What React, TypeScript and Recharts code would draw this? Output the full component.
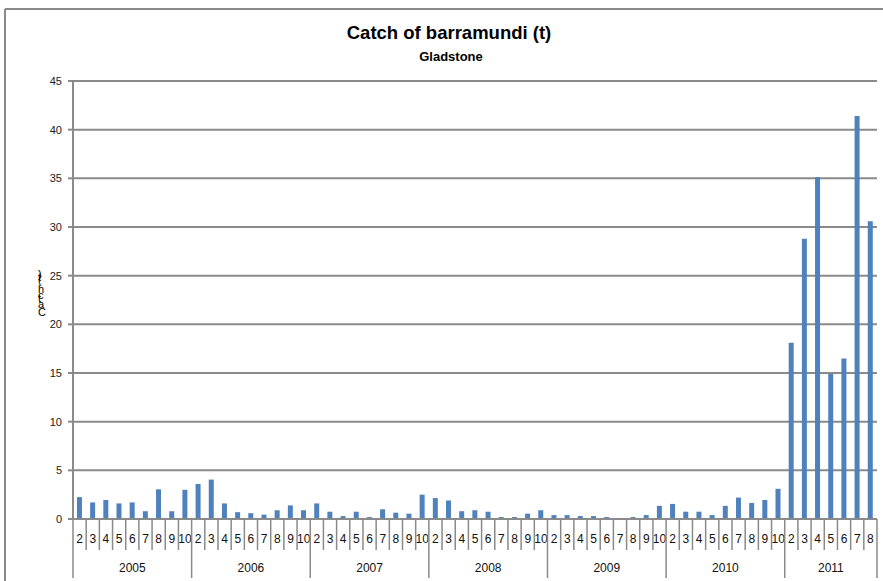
import { BarChart, Bar, XAxis, YAxis, CartesianGrid } from 'recharts';

// catch per month, Gladstone (tonnes)
const years = ['2005', '2006', '2007', '2008', '2009', '2010', '2011'];
const monthsFull = ['2', '3', '4', '5', '6', '7', '8', '9', '10'];
const months2011 = ['2', '3', '4', '5', '6', '7', '8'];

const catch2005 = [2.25, 1.7, 1.95, 1.6, 1.7, 0.8, 3.05, 0.8, 3.0];
const catch2006 = [3.6, 4.05, 1.6, 0.7, 0.6, 0.45, 0.9, 1.4, 0.9];
const catch2007 = [1.6, 0.75, 0.3, 0.75, 0.2, 1.0, 0.65, 0.55, 2.5];
const catch2008 = [2.15, 1.9, 0.8, 0.9, 0.75, 0.2, 0.2, 0.55, 0.9];
const catch2009 = [0.4, 0.4, 0.3, 0.3, 0.2, 0.1, 0.2, 0.4, 1.35];
const catch2010 = [1.55, 0.75, 0.75, 0.4, 1.35, 2.2, 1.65, 1.95, 3.1];
const catch2011 = [18.1, 28.8, 35.1, 14.9, 16.5, 41.4, 30.6];

const yTicks = [0, 5, 10, 15, 20, 25, 30, 35, 40, 45];

const yearValues = [catch2005, catch2006, catch2007, catch2008, catch2009, catch2010, catch2011];
const yearMonths = years.map((y) => (y === '2011' ? months2011 : monthsFull));

const data = years.flatMap((year, yi) =>
  yearMonths[yi].map((month, mi) => ({
    key: `${year}-${month}`,
    year,
    month,
    pos: mi,
    count: yearMonths[yi].length,
    value: yearValues[yi][mi],
  }))
);

const W = 883;
const H = 581;
const Y_AXIS_W = 73;
const RIGHT = 6;
const X_AXIS_H = 62;
const AXIS_Y = H - X_AXIS_H;
const STEP = (W - Y_AXIS_W - RIGHT) / data.length;
const GREY = '#8a8a8a';
const FONT = '"Liberation Sans", Arial, sans-serif';

function MonthTick(props: any) {
  const { x, payload } = props;
  const d = data.find((r) => r.key === payload.value);
  if (!d) return null;
  const first = d.pos === 0;
  const isEnd = d.key === data[data.length - 1].key;
  const mid = d.pos === Math.floor(d.count / 2);
  return (
    <g>
      <text x={x} y={AXIS_Y + 24} textAnchor="middle" fontSize={12} fill="#111" fontFamily={FONT}>
        {d.month}
      </text>
      <line
        x1={x - STEP / 2}
        x2={x - STEP / 2}
        y1={AXIS_Y}
        y2={first ? AXIS_Y + 59 : AXIS_Y + 31}
        stroke={GREY}
        strokeWidth={1.5}
      />
      {isEnd && (
        <line x1={x + STEP / 2} x2={x + STEP / 2} y1={AXIS_Y} y2={AXIS_Y + 59} stroke={GREY} strokeWidth={1.5} />
      )}
      {mid && (
        <text x={x} y={AXIS_Y + 53} textAnchor="middle" fontSize={12} fill="#111" fontFamily={FONT}>
          {d.year}
        </text>
      )}
    </g>
  );
}

export default function App() {
  return (
    <div style={{ position: 'fixed', left: 0, top: 0, width: W, height: H, background: '#fff' }}>
      <BarChart
        width={W}
        height={H}
        data={data}
        margin={{ top: 81, right: RIGHT, left: 0, bottom: 0 }}
        barCategoryGap="30%"
      >
        <CartesianGrid vertical={false} stroke={GREY} strokeWidth={2} />
        <XAxis
          dataKey="key"
          interval={0}
          height={X_AXIS_H}
          tickLine={false}
          axisLine={{ stroke: GREY, strokeWidth: 2 }}
          tick={<MonthTick />}
        />
        <YAxis
          domain={[0, 45]}
          ticks={yTicks}
          width={Y_AXIS_W}
          tickSize={5}
          tickMargin={6}
          axisLine={{ stroke: GREY, strokeWidth: 2 }}
          tickLine={{ stroke: GREY, strokeWidth: 2 }}
          tick={{ fontSize: 11, fill: '#222', fontFamily: FONT }}
        />
        <Bar dataKey="value" fill="#4F81BD" isAnimationActive={false} />
      </BarChart>
      <svg width={W} height={H} style={{ position: 'absolute', left: 0, top: 0, pointerEvents: 'none' }}>
        <line x1={5} x2={W} y1={9} y2={9} stroke={GREY} strokeWidth={2} />
        <line x1={5} x2={5} y1={9} y2={H} stroke={GREY} strokeWidth={2} />
        <text x={449} y={39} textAnchor="middle" fontSize={18.5} fontWeight="bold" fill="#000" fontFamily={FONT}>
          Catch of barramundi (t)
        </text>
        <text x={451} y={61} textAnchor="middle" fontSize={13} fontWeight="bold" fill="#000" fontFamily={FONT}>
          Gladstone
        </text>
        <text
          x={38}
          y={295}
          transform="rotate(-90 38 295)"
          rotate="90"
          textAnchor="middle"
          fontSize={11}
          fill="#000"
          fontFamily={FONT}
        >
          Catch (t)
        </text>
      </svg>
    </div>
  );
}
